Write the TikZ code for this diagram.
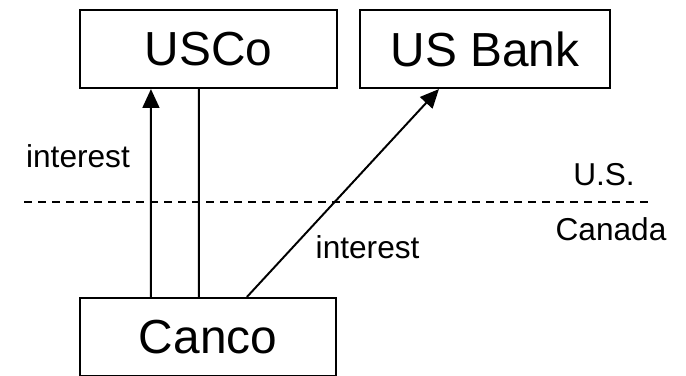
\documentclass[tikz,border=0pt]{standalone}
\usepackage{fontspec}
\setmainfont{Liberation Sans}
\usetikzlibrary{arrows.meta}

\tikzset{
    firm/.style={draw, line width=1.5pt, inner sep=0pt, minimum height=1.95cm,
        font=\fontsize{34}{40}\selectfont},
    flow/.style={line width=1.4pt},
    lbl/.style={font=\fontsize{22.5}{28}\selectfont, inner sep=0pt}
}

\begin{document}
\begin{tikzpicture}
    \useasboundingbox (0,0) rectangle (17.15,9.375);

    \node[firm, minimum width=6.425cm] (usco) at (5.2125,8.15) {USCo};
    \node[firm, minimum width=6.25cm] (usbank) at (12.125,8.15) {US Bank};
    \node[firm, minimum width=6.4cm] (canco) at (5.2,0.95) {Canco};

    % border between the two countries
    \coordinate (bw) at (0.6,4.325);
    \coordinate (be) at (16.2,4.325);
    \draw[line width=1.2pt, dash pattern=on 0.21cm off 0.14cm] (bw) -- (be);
    \node[lbl] (us) at (15.1,5.0) {U.S.};
    \node[lbl] (ca) at (15.275,3.65) {Canada};

    % payments
    \draw[flow, -{Triangle[length=0.47cm, width=0.42cm]}]
        ([xshift=1.8cm]canco.north west) -- ([xshift=1.8cm]usco.south west);
    \draw[flow] ([xshift=3cm]canco.north west) -- ([xshift=3cm]usco.south west);
    \draw[flow, -{Triangle[length=0.47cm, width=0.42cm]}]
        ([xshift=4.2cm]canco.north west) -- ([xshift=2cm]usbank.south west);

    \node[lbl] (int1) at (1.95,5.475) {interest};
    \node[lbl] (int2) at (9.19,3.2) {interest};
\end{tikzpicture}
\end{document}
